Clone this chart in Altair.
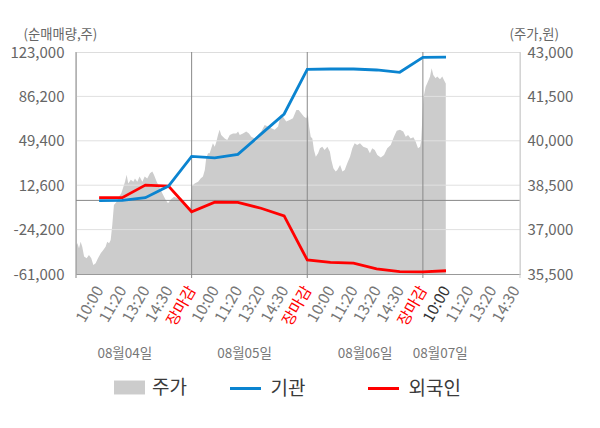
import altair as alt
import pandas as pd

FONT = "Noto Sans CJK KR"

# ---- data ----
time_labels = ["10:00", "11:20", "13:20", "14:30", "장마감",
               "10:00", "11:20", "13:20", "14:30", "장마감",
               "10:00", "11:20", "13:20", "14:30", "장마감",
               "10:00", "11:20", "13:20", "14:30"]
tick_u = list(range(1, 20))

flow_u = list(range(1, 17))
inst = [-200, 0, 2300, 11900, 36500, 35300, 38200, 54900, 71600, 108600,
        108900, 108900, 108100, 106200, 118600, 118800]
foreign = [2300, 2250, 12700, 11900, -9400, -1500, -1700, -6500, -12900, -49400,
           -51300, -51900, -56800, -59100, -59300, -58300]

price_u = [0.00, 0.06, 0.13, 0.20, 0.27, 0.35, 0.46, 0.56, 0.66, 0.75, 0.85, 0.95,
           1.07, 1.18, 1.28, 1.35, 1.43, 1.50, 1.57, 1.64, 1.76, 1.86, 1.96, 2.05,
           2.12, 2.19, 2.26, 2.37, 2.48, 2.55, 2.65, 2.75, 2.87, 2.97, 3.08, 3.20,
           3.30, 3.37, 3.49, 3.63, 3.73, 3.88, 3.98, 4.10, 4.24, 4.38, 4.53, 4.67,
           4.81, 4.93,
           5.00, 5.02, 5.13, 5.28, 5.39, 5.49, 5.57, 5.63, 5.71, 5.78, 5.85, 5.92,
           6.00, 6.07, 6.14, 6.21, 6.28, 6.43, 6.54, 6.65, 6.79, 6.93, 7.01, 7.08,
           7.22, 7.36, 7.48, 7.58, 7.73, 7.87, 8.01, 8.16, 8.30, 8.45, 8.59, 8.74,
           8.85, 8.95, 9.09, 9.24, 9.38, 9.53, 9.63, 9.74, 9.86, 9.96,
           10.03, 10.08, 10.15, 10.22, 10.29, 10.37, 10.47, 10.55, 10.65, 10.75,
           10.87, 10.98, 11.04, 11.13, 11.23, 11.30, 11.42, 11.52, 11.62, 11.73,
           11.85, 11.95, 12.05, 12.16, 12.28, 12.42, 12.60, 12.71, 12.81, 12.92,
           13.03, 13.18, 13.32, 13.46, 13.61, 13.75, 13.87, 14.01, 14.15, 14.26,
           14.36, 14.47, 14.59, 14.69, 14.79, 14.88, 14.93,
           15.02, 15.12, 15.22, 15.31, 15.38, 15.45, 15.55, 15.62, 15.74, 15.84,
           15.91, 15.99]
price_v = [36480, 36540, 36370, 36590, 36420, 36090, 36030, 36140, 36030, 35800, 35860, 36030,
           36200, 36310, 36420, 36590, 36540, 36650, 37160, 37830, 37940, 38110, 38230, 38450,
           38620, 38850, 38560, 38680, 38620, 38730, 38620, 38790, 38620, 38790, 38730, 38900,
           38960, 38850, 38620, 38400, 38230, 38000, 37890, 38020, 38110, 38060, 38000, 37890,
           37770, 37720,
           38300, 38470, 38560, 38620, 38730, 38790, 39010, 39410, 39580, 39580, 39750, 39920,
           39800, 39970, 40200, 40370, 40200, 40080, 40030, 40200, 40250, 40250, 40310, 40200,
           40250, 40310, 40250, 40140, 40080, 40200, 40310, 40530, 40480, 40420, 40370, 40480,
           40870, 40810, 40650, 40700, 40760, 41040, 41040, 40930, 40810, 40760,
           40870, 40480, 40140, 40080, 39690, 39460, 39580, 39750, 39800, 39690,
           39800, 39630, 39350, 39070, 38960, 39010, 39180, 38960, 39010, 39240,
           39460, 39750, 39920, 39860, 39920, 39800, 39750, 39580, 39750, 39690,
           39520, 39440, 39520, 39750, 39860, 40140, 40340, 40370, 40310, 40140,
           40200, 40080, 40120, 39970, 39750, 39800, 40030,
           41440, 41830, 42000, 42170, 42450, 42220, 42110, 42170, 42080, 42170,
           42050, 41940]

date_labels = ["08월04일", "08월05일", "08월06일", "08월07일"]
date_u = [2.11, 7.29, 12.5, 15.75]
sep_u = [0, 5, 10, 15]
left_ticks = [-61000, -24200, 12600, 49400, 86200, 123000]
grid_vals = [-24200, 12600, 49400, 86200]
right_ticks = [35500, 37000, 38500, 40000, 41500, 43000]
price_name, inst_name, foreign_name = "주가", "기관", "외국인"
price_color, inst_color, foreign_color = "#cccccc", "#0b84d0", "#ff0000"

# ---- tables ----
price_df = pd.DataFrame({"u": price_u, "price": price_v, "series": price_name})
inst_df = pd.DataFrame({"u": flow_u, "value": inst, "series": inst_name})
foreign_df = pd.DataFrame({"u": flow_u, "value": foreign, "series": foreign_name})
grid_df = pd.DataFrame({"value": grid_vals})
zero_df = pd.DataFrame({"value": [0]})
sep_df = pd.DataFrame({"u": sep_u})
edge_df = pd.DataFrame({"u": [19.2]})
date_df = pd.DataFrame({"u": date_u, "label": date_labels})

label_expr = "[" + ",".join("'" + t + "'" for t in time_labels) + "][datum.value - 1]"
num_expr = "replace(format(datum.value, ',d'), '\u2212', '-')"

XS = alt.Scale(domain=[0, 19.2], nice=False, zero=False)
X_AXIS = alt.Axis(values=tick_u, labelExpr=label_expr, labelAngle=-60, labelAlign="right",
                  labelBaseline="middle", labelPadding=13, labelFontSize=15.5,
                  labelColor={"expr": "datum.value % 5 == 0 ? '#ff0000' : (datum.value == 16 ? '#333333' : '#777777')"},
                  ticks=False, grid=False, domainColor="#999999", title=None, labelOverlap=False,
                  labelFont=FONT)
LS = alt.Scale(domain=[-61000, 123000], nice=False, zero=False)
L_AXIS = alt.Axis(orient="left", values=left_ticks, grid=False, ticks=False, domain=False,
                  labelExpr=num_expr,
                  labelFontSize=15, labelColor="#666666", labelPadding=12, labelFont=FONT,
                  title="(순매매량,주)", titleAngle=0, titleAlign="left", titleBaseline="alphabetic",
                  titleX=-53, titleY=-14, titleFontSize=13.3, titleFontWeight="normal",
                  titleColor="#666666", titleFont=FONT)
RS = alt.Scale(domain=[35500, 43000], nice=False, zero=False)
R_AXIS = alt.Axis(orient="right", values=right_ticks, grid=False, ticks=False, domain=False,
                  labelExpr=num_expr, labelFontSize=15, labelColor="#666666", labelPadding=7,
                  labelFont=FONT,
                  title="(주가,원)", titleAngle=0, titleAlign="left", titleBaseline="alphabetic",
                  titleX=-11, titleY=-14, titleFontSize=13.3, titleFontWeight="normal",
                  titleColor="#666666", titleFont=FONT)

X = alt.X("u:Q", scale=XS, axis=X_AXIS)

LEGEND_TEXT = dict(labelFont=FONT, labelFontSize=19, labelColor="#3a3a3a", padding=0,
                   orient="none", direction="horizontal", title=None, symbolSize=961)


def line_legend(x, color):
    return alt.Legend(legendX=x, legendY=319.5, symbolType="stroke", symbolStrokeWidth=3,
                      symbolStrokeColor=color, labelOffset=8, **LEGEND_TEXT)


area_legend = alt.Legend(legendX=38, legendY=320, symbolType="M-1,-0.45H1V0.45H-1Z",
                         symbolStrokeWidth=0, symbolFillColor=price_color, labelOffset=7,
                         **LEGEND_TEXT)

area = alt.Chart(price_df).mark_area().encode(
    x=X,
    y=alt.Y("price:Q", scale=RS, axis=R_AXIS),
    y2=alt.datum(35500),
    fill=alt.Fill("series:N", scale=alt.Scale(domain=[price_name], range=[price_color]),
                  legend=area_legend),
)

grid = alt.Chart(grid_df).mark_rule(color="#e0e0e0", strokeWidth=1).encode(
    y=alt.Y("value:Q", scale=LS, axis=L_AXIS))
zero = alt.Chart(zero_df).mark_rule(color="#888888", strokeWidth=1).encode(
    y=alt.Y("value:Q", scale=LS, axis=L_AXIS))
seps = alt.Chart(sep_df).mark_rule(color="#888888", strokeWidth=1).encode(
    x=X, y=alt.value(0), y2=alt.value(226))
edge = alt.Chart(edge_df).mark_rule(color="#cccccc", strokeWidth=1).encode(
    x=X, y=alt.value(0), y2=alt.value(226))

inst_line = alt.Chart(inst_df).mark_line().encode(
    x=X,
    y=alt.Y("value:Q", scale=LS, axis=L_AXIS),
    color=alt.Color("series:N",
                    scale=alt.Scale(domain=[inst_name], range=[inst_color]),
                    legend=line_legend(152.5, inst_color)),
    strokeWidth=alt.value(2.8),
    order="u:Q",
)
foreign_line = alt.Chart(foreign_df).mark_line().encode(
    x=X,
    y=alt.Y("value:Q", scale=LS, axis=L_AXIS),
    stroke=alt.Stroke("series:N",
                      scale=alt.Scale(domain=[foreign_name], range=[foreign_color]),
                      legend=line_legend(290.5, foreign_color)),
    strokeWidth=alt.value(2.8),
    order="u:Q",
)

dates = alt.Chart(date_df).mark_text(font=FONT, fontSize=13.5, color="#777777",
                                     align="center", baseline="middle").encode(
    x=X, y=alt.value(302), text="label:N")

flow = alt.layer(grid, zero, seps, edge, foreign_line, inst_line, dates)

chart = alt.layer(area, flow).resolve_scale(y="independent").properties(
    width=444, height=222,
    autosize=alt.AutoSizeParams(type="none"),
    padding={"left": 68, "top": 44, "right": 72, "bottom": 146},
).configure_view(fill="#f4f4f4", strokeWidth=0).configure(font=FONT)

chart.save("out.html", embed_options={"renderer": "svg", "actions": False})
